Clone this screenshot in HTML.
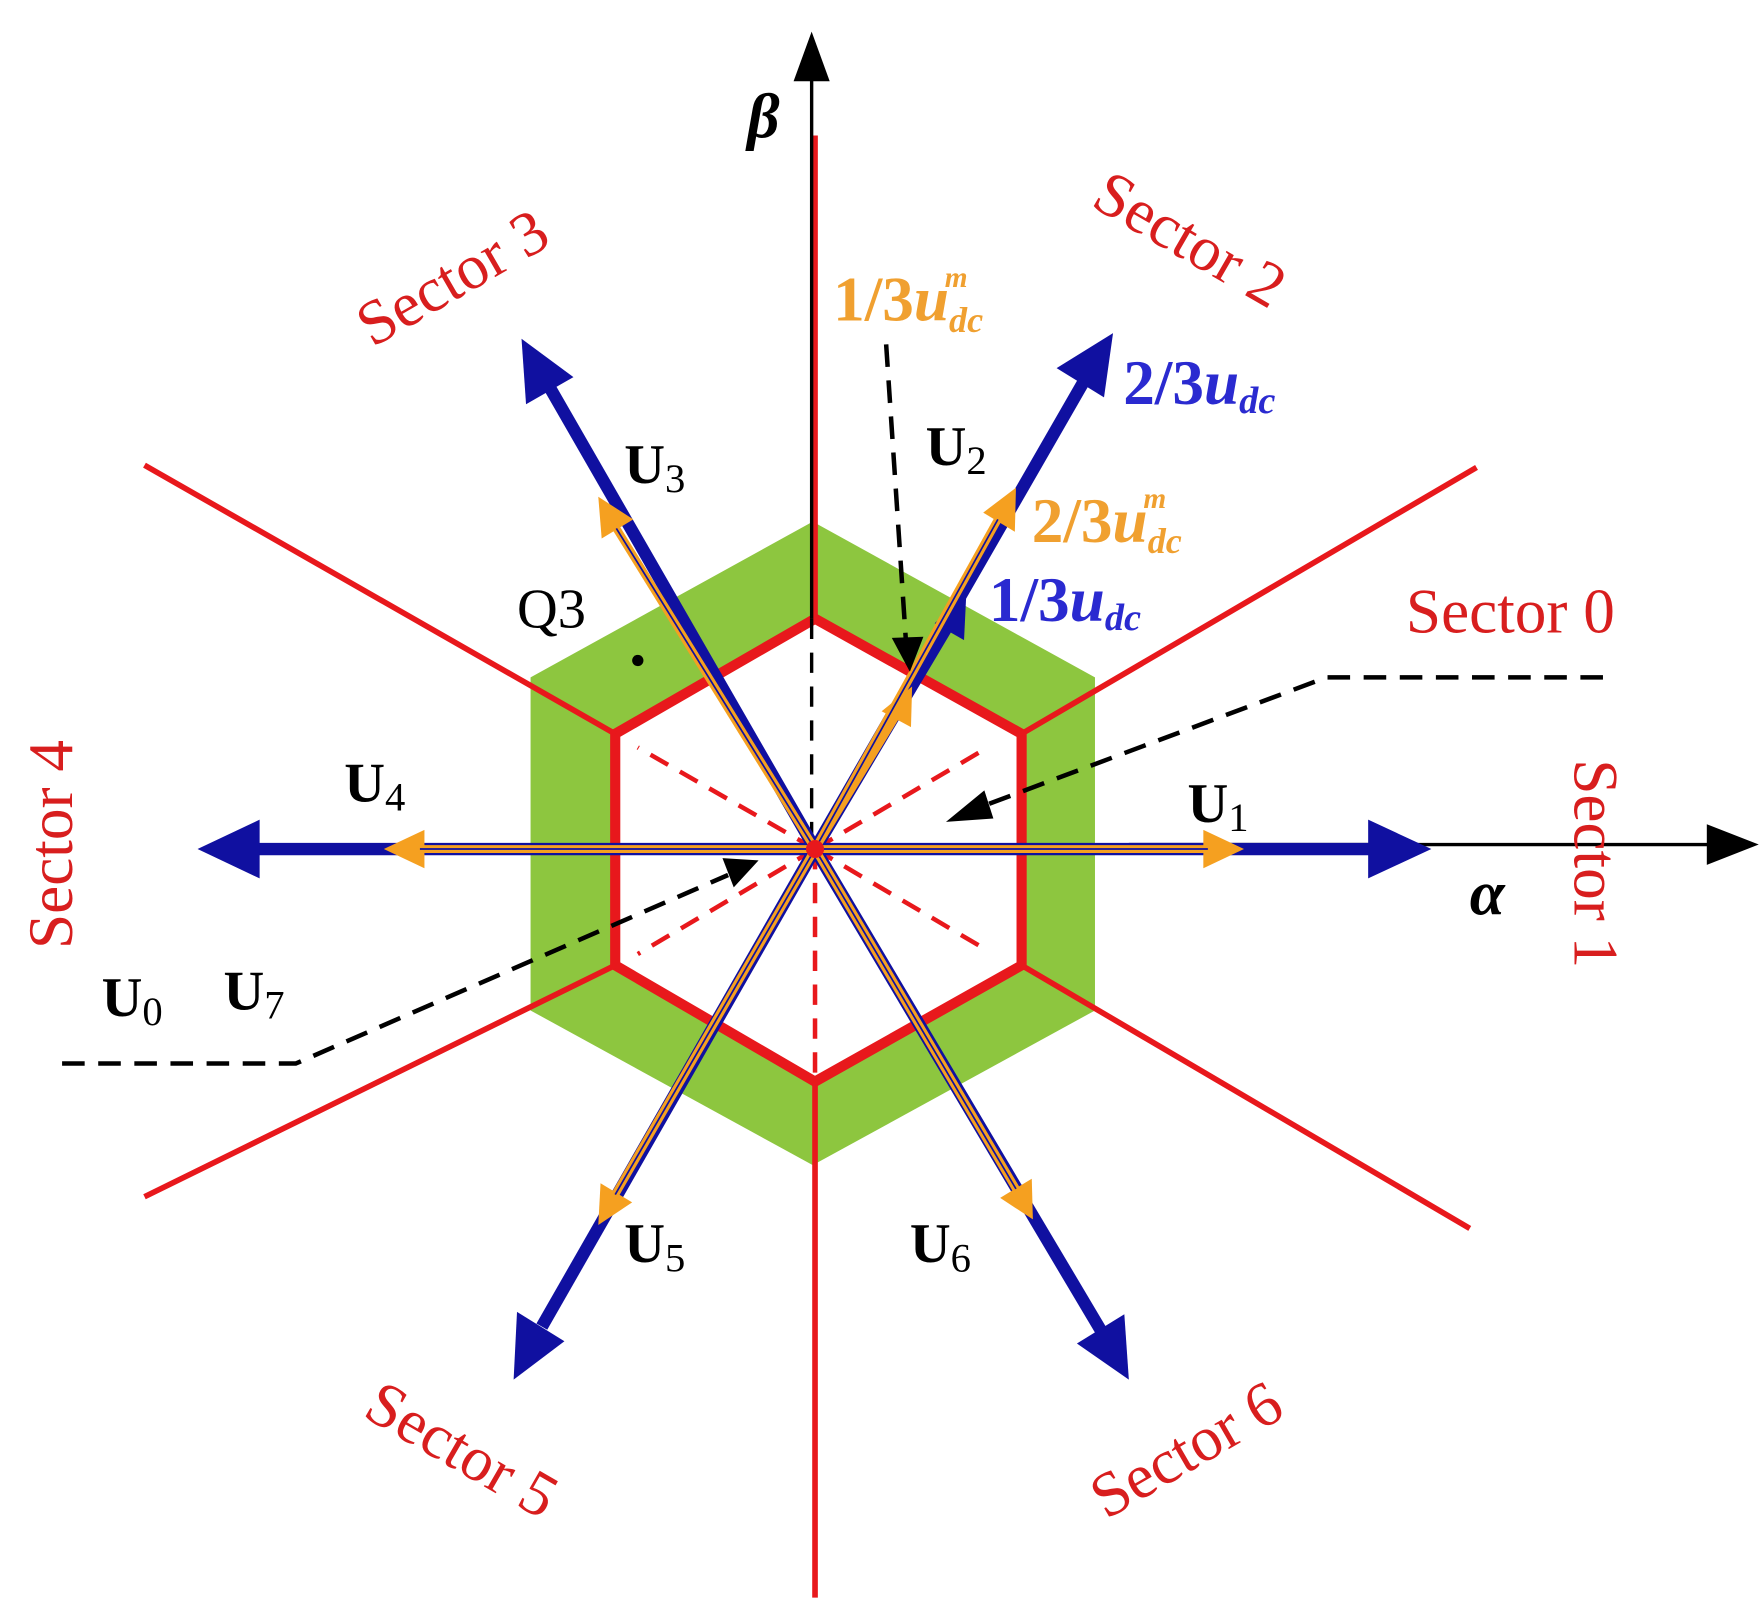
<!DOCTYPE html>
<html><head><meta charset="utf-8"><style>
html,body{margin:0;padding:0;background:#fff}
svg{display:block}
text{font-family:"Liberation Serif",serif}
</style></head><body>
<svg width="1761" height="1610" viewBox="0 0 1560 1426" preserveAspectRatio="none" xmlns="http://www.w3.org/2000/svg">
<polygon points="720,462 970,600 970,895 720,1032 470,895 470,600" fill="#8dc63f"/>
<polygon points="722,548 905,650 905,855 722,958 545,855 545,650" fill="#fff" stroke="#e8181c" stroke-width="9" stroke-linejoin="miter"/>
<g stroke="#e8181c" stroke-width="5" fill="none">
<line x1="545" y1="650" x2="128" y2="412"/>
<line x1="905" y1="650" x2="1308" y2="414"/>
<line x1="905" y1="855" x2="1302" y2="1088"/>
<line x1="545" y1="855" x2="128" y2="1060"/>
<line x1="722" y1="120" x2="722" y2="548"/>
<line x1="722" y1="958" x2="722" y2="1415"/>
</g>
<g stroke="#e8181c" stroke-width="4" stroke-dasharray="18,12" fill="none">
<line x1="722" y1="752" x2="565" y2="662"/>
<line x1="722" y1="752" x2="875" y2="662"/>
<line x1="722" y1="752" x2="875" y2="842"/>
<line x1="722" y1="752" x2="565" y2="845"/>
<line x1="722" y1="752" x2="722" y2="958"/>
</g>
<line x1="719" y1="548" x2="719" y2="752" stroke="#000" stroke-width="3" stroke-dasharray="18,12"/>
<line x1="719" y1="60" x2="719" y2="548" stroke="#000" stroke-width="3"/>
<polygon points="719,28 703,72 735,72" fill="#000"/>
<line x1="1000" y1="748" x2="1520" y2="748" stroke="#000" stroke-width="3"/>
<polygon points="1558,748 1512,730 1512,766" fill="#000"/>
<g stroke="#1010a0" stroke-width="11" fill="#1010a0">
<line x1="722" y1="752" x2="1215" y2="752"/><polygon stroke="none" points="1268,752 1212,726 1212,778"/>
<line x1="722" y1="752" x2="225" y2="752"/><polygon stroke="none" points="175,752 230,726 230,778"/>
<line x1="722" y1="752" x2="960" y2="338"/><polygon stroke="none" points="986,295 936,326 978,352"/>
<line x1="722" y1="752" x2="488" y2="345"/><polygon stroke="none" points="462,300 466,358 508,334"/>
<line x1="722" y1="752" x2="480" y2="1175"/><polygon stroke="none" points="455,1222 458,1162 500,1188"/>
<line x1="722" y1="752" x2="975" y2="1178"/><polygon stroke="none" points="1000,1222 996,1164 954,1190"/>
<line x1="722" y1="752" x2="842" y2="550"/><polygon stroke="none" points="856,526 828,552 854,567"/>
</g>
<g stroke="#f5a020" stroke-width="7" fill="#f5a020">
<line x1="722" y1="752" x2="1070" y2="752"/><polygon stroke="none" points="1102,752 1066,735 1066,769"/>
<line x1="722" y1="752" x2="372" y2="752"/><polygon stroke="none" points="340,752 376,735 376,769"/>
<line x1="722" y1="752" x2="884" y2="460"/><polygon stroke="none" points="900,432 871,454 899,471"/>
<line x1="722" y1="752" x2="546" y2="468"/><polygon stroke="none" points="530,440 533,477 561,460"/>
<line x1="722" y1="752" x2="545" y2="1058"/><polygon stroke="none" points="530,1085 532,1048 560,1065"/>
<line x1="722" y1="752" x2="900" y2="1053"/><polygon stroke="none" points="915,1080 886,1061 914,1044"/>
<line x1="722" y1="752" x2="795" y2="632"/><polygon stroke="none" points="808,608 781,630 807,644"/>
</g>
<g stroke="#1010a0" stroke-width="1.5">
<line x1="722" y1="752" x2="1070" y2="752"/><line x1="722" y1="752" x2="372" y2="752"/>
<line x1="722" y1="752" x2="884" y2="460"/><line x1="722" y1="752" x2="546" y2="468"/>
<line x1="722" y1="752" x2="545" y2="1058"/><line x1="722" y1="752" x2="900" y2="1053"/>
</g>
<circle cx="722" cy="752" r="8" fill="#e8181c"/>
<g stroke="#000" stroke-width="4" stroke-dasharray="20,12" fill="none">
<path d="M785,305 L803,575"/>
<path d="M1420,600 L1175,600 L860,718"/>
<path d="M55,942 L262,942 L645,775"/>
</g>
<polygon points="806,595 790,565 818,564" fill="#000"/>
<polygon points="838,728 872,700 880,725" fill="#000"/>
<polygon points="672,762 640,760 650,786" fill="#000"/>
<circle cx="565" cy="585" r="5" fill="#000"/>
<g font-size="56" fill="#d81e1e">
<text transform="translate(410,262) rotate(-30)" text-anchor="middle">Sector 3</text>
<text transform="translate(1045,228) rotate(30)" text-anchor="middle">Sector 2</text>
<text x="1338" y="560" text-anchor="middle">Sector 0</text>
<text transform="translate(1395,765) rotate(90)" text-anchor="middle">Sector 1</text>
<text transform="translate(64,748) rotate(-90)" text-anchor="middle">Sector 4</text>
<text transform="translate(400,1300) rotate(30)" text-anchor="middle">Sector 5</text>
<text transform="translate(1060,1300) rotate(-30)" text-anchor="middle">Sector 6</text>
</g>
<g font-size="50" fill="#000">
<text x="458" y="556">Q3</text>
<text x="553" y="428" font-weight="bold">U<tspan font-weight="normal" font-size="36" dy="8">3</tspan></text>
<text x="820" y="412" font-weight="bold">U<tspan font-weight="normal" font-size="36" dy="8">2</tspan></text>
<text x="305" y="710" font-weight="bold">U<tspan font-weight="normal" font-size="36" dy="8">4</tspan></text>
<text x="1052" y="728" font-weight="bold">U<tspan font-weight="normal" font-size="36" dy="8">1</tspan></text>
<text x="553" y="1118" font-weight="bold">U<tspan font-weight="normal" font-size="36" dy="8">5</tspan></text>
<text x="806" y="1118" font-weight="bold">U<tspan font-weight="normal" font-size="36" dy="8">6</tspan></text>
<text x="90" y="900" font-weight="bold">U<tspan font-weight="normal" font-size="36" dy="8">0</tspan></text>
<text x="198" y="894" font-weight="bold">U<tspan font-weight="normal" font-size="36" dy="8">7</tspan></text>
<text x="662" y="122" font-weight="bold" font-style="italic" font-size="56">β</text>
<text x="1302" y="810" font-weight="bold" font-style="italic" font-size="56">α</text>
</g>
<g font-weight="bold" font-size="56">
<text x="738" y="284" fill="#f0a030">1/3<tspan font-style="italic">u</tspan><tspan font-style="italic" font-size="32" dy="10">dc</tspan><tspan font-style="italic" font-size="26" dx="-34" dy="-40">m</tspan></text>
<text x="914" y="480" fill="#f0a030">2/3<tspan font-style="italic">u</tspan><tspan font-style="italic" font-size="32" dy="10">dc</tspan><tspan font-style="italic" font-size="26" dx="-34" dy="-40">m</tspan></text>
<text x="995" y="358" fill="#2a2ad0">2/3<tspan font-style="italic">u</tspan><tspan font-style="italic" font-size="34" dy="8">dc</tspan></text>
<text x="876" y="550" fill="#2a2ad0">1/3<tspan font-style="italic">u</tspan><tspan font-style="italic" font-size="34" dy="8">dc</tspan></text>
</g>
</svg>
</body></html>
